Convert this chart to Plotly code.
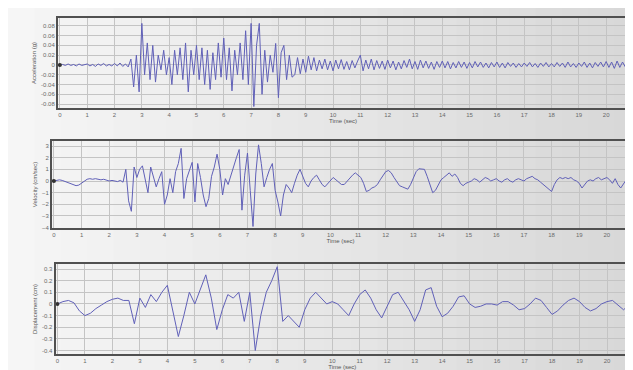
import numpy as np
import plotly.graph_objects as go

# ---------------- data ----------------
dt_acc = 0.1
acceleration_g = [
    0, 0.001, -0.001, 0.002, -0.001, 0.001, -0.002, 0.002, -0.001, 0.001,
    0.002, -0.002, 0.001, -0.003, 0.002, -0.001, 0.003, -0.002, 0.001, -0.002,
    0.003, -0.002, 0.004, -0.003, 0.002, -0.004, 0.012, -0.045, 0.02, -0.055,
    0.085, -0.02, 0.045, -0.03, 0.04, -0.035, 0.02, -0.01, 0.03, -0.02,
    0.015, -0.04, 0.03, -0.02, 0.035, -0.03, 0.045, -0.055, 0.03, -0.02,
    0.04, -0.03, 0.035, -0.04, 0.03, -0.05, 0.025, -0.03, 0.045, -0.025,
    0.055, -0.03, 0.035, -0.053, 0.03, -0.02, 0.045, -0.03, 0.07, -0.04,
    0.085, -0.085, 0.04, 0.085, -0.06, 0.03, -0.035, 0.02, -0.015, 0.044,
    -0.067, 0.025, 0.04, -0.03, 0.02, -0.025, -0.02, 0.015, -0.018, 0.012,
    -0.015, 0.018, -0.01, 0.015, -0.012, 0.01, -0.008, 0.012, -0.01, 0.008,
    -0.012, 0.01, -0.008, 0.011, -0.009, 0.007, -0.01, 0.009, -0.006, 0.008,
    0.02, -0.012, 0.01, -0.008, 0.012, -0.01, 0.009, -0.007, 0.008, -0.009,
    0.01, -0.006, 0.008, -0.01, 0.006, -0.008, 0.009, -0.005, 0.012, -0.008,
    0.007, -0.009, 0.01, -0.006, 0.008, -0.007, 0.006, -0.009, 0.007, -0.005,
    0.008, -0.006, 0.007, -0.008, 0.005, -0.006, 0.007, -0.005, 0.006, -0.007,
    0.005, -0.006, 0.007, -0.004, 0.006, -0.005, 0.004, -0.006, 0.005, -0.004,
    0.006, -0.005, 0.004, -0.006, 0.005, -0.003, 0.004, -0.005, 0.003, -0.004,
    0.004, -0.003, 0.005, -0.004, 0.003, -0.005, 0.004, -0.003, 0.005, -0.004,
    0.003, -0.004, 0.005, -0.003, 0.004, -0.005, 0.006, -0.004, 0.003, -0.005,
    0.004, -0.003, 0.006, -0.005, 0.004, -0.006, 0.005, -0.003, 0.006, -0.004,
    0.007, -0.005, 0.006, -0.007, 0.008, -0.005, 0.006, -0.004, 0.003,
]

dt_vel = 0.1
velocity_cms = [
    0, 0.05, 0.1, 0.05, -0.05, -0.15, -0.25, -0.35, -0.4, -0.35,
    -0.2, 0.0, 0.15, 0.2, 0.15, 0.2, 0.15, 0.1, 0.15, 0.05,
    0.0, 0.05, 0.0, -0.05, 0.05, -0.1, 1.0, -1.7, -2.6, 1.2,
    0.3, 1.0, 1.3, 0.2, -1.0, 1.2, 0.4, -0.5, 0.2, 0.8,
    -2.0, -1.2, 0.2, -1.0, 0.8, 1.5, 2.8, -1.5, 0.2, 1.0,
    1.6, -1.8, 1.5, 0.3, -1.2, -2.2, -1.5, 0.4, 1.2, 2.3,
    1.0, -1.2, 0.2, -0.3, 0.5, 1.4, 2.0, 2.7, -2.5, 0.5,
    2.4, -0.8, -3.9, 0.6, 3.1, 1.5, -0.5, 0.3, 1.0, 1.5,
    -0.8, -1.8, -3.0, -1.2, -0.3, -0.6, -1.0, -0.2, 0.5, 1.0,
    0.4, -0.2, -0.5, 0.0, 0.3, 0.5, 0.1, -0.3, -0.5, -0.2,
    0.1, 0.3, 0.1, -0.1, -0.3, -0.3, 0.0, 0.3, 0.5, 0.7,
    0.5, 0.3, -0.2, -0.9, -0.8, -0.6, -0.5, -0.3, 0.1, 0.5,
    0.8, 0.9, 0.7, 0.3, -0.1, -0.4, -0.5, -0.6, -0.7, -0.3,
    0.3, 0.8, 1.05, 1.05, 1.0, 0.4, -0.3, -1.0, -0.8, -0.3,
    0.1, 0.3, 0.5, 0.7, 0.4, 0.6, 0.3, -0.2, -0.4, -0.2,
    -0.1, 0.0, 0.2, 0.1, -0.1, 0.1, 0.3, 0.2, 0.0, 0.1,
    0.2, 0.0, -0.1, 0.1, 0.2, 0.0, -0.1, 0.1, 0.2, 0.1,
    0.0, 0.2, 0.3, 0.4, 0.2, 0.1, -0.1, -0.3, -0.5, -0.7,
    -0.9, -0.3, 0.1, 0.3, 0.2, 0.3, 0.2, 0.3, 0.1, 0.0,
    -0.2, -0.6, -0.3, 0.0, 0.1, 0.0, 0.2, 0.3, 0.1, 0.2,
    0.3, 0.1, -0.2, 0.2, -0.3, -0.6, -0.2, 0.1, 0.3,
]

dt_disp = 0.2
displacement_cm = [
    0, 0.02, 0.03, 0.01, -0.06, -0.1, -0.08, -0.04, -0.01, 0.02,
    0.04, 0.05, 0.03, 0.03, -0.17, 0.05, -0.03, 0.08, 0.02, 0.1,
    0.16, -0.05, -0.28, -0.1, 0.1, 0.0, 0.12, 0.25, 0.05, -0.22,
    -0.05, 0.08, 0.05, 0.1, -0.15, 0.1, -0.4, -0.1, 0.1, 0.2,
    0.32, -0.15, -0.1, -0.15, -0.2, -0.05, 0.05, 0.1, 0.05, 0.0,
    0.02, 0.0, -0.05, -0.1, 0.0, 0.08, 0.12, 0.05, -0.05, -0.12,
    -0.02, 0.08, 0.1, 0.03, -0.05, -0.15, -0.05, 0.12, 0.14, -0.02,
    -0.11, -0.08, -0.02, 0.06, 0.07, 0.0, -0.03, -0.02, 0.0, 0.0,
    -0.01, 0.02, 0.02, -0.01, -0.05, -0.04, 0.0, 0.05, 0.03, -0.03,
    -0.09, -0.06, -0.01, 0.03, 0.05, 0.02, -0.03, -0.06, -0.04, 0.0,
    0.02, 0.03, -0.01, -0.05, -0.01,
]

x_ticks = list(range(0, 21))
acc_ticks = [-0.08, -0.06, -0.04, -0.02, 0, 0.02, 0.04, 0.06, 0.08]
acc_tick_text = ["-0.08", "-0.06", "-0.04", "-0.02", "0", "0.02", "0.04", "0.06", "0.08"]
vel_ticks = [-4, -3, -2, -1, 0, 1, 2, 3]
disp_ticks = [-0.4, -0.3, -0.2, -0.1, 0, 0.1, 0.2, 0.3]
disp_tick_text = ["-0.4", "-0.3", "-0.2", "-0.1", "0", "0.1", "0.2", "0.3"]

t_acc = np.arange(len(acceleration_g)) * dt_acc
t_vel = np.arange(len(velocity_cms)) * dt_vel
t_disp = np.arange(len(displacement_cm)) * dt_disp

# ---------------- figure ----------------
W, H = 633, 370
line_col = "#6060b8"
fig = go.Figure()

series = [
    (t_acc, acceleration_g, "x", "y", 1.0),
    (t_vel, velocity_cms, "x2", "y2", 1.0),
    (t_disp, displacement_cm, "x3", "y3", 1.0),
]
for t, v, xa, ya, w in series:
    fig.add_trace(go.Scatter(x=t, y=v, mode="lines", xaxis=xa, yaxis=ya,
                             line=dict(color=line_col, width=w), showlegend=False,
                             hoverinfo="skip"))
    fig.add_trace(go.Scatter(x=[t[0]], y=[v[0]], mode="markers", xaxis=xa, yaxis=ya,
                             marker=dict(color="#333333", size=4), showlegend=False,
                             hoverinfo="skip"))

def px_dom_x(l, r):
    return [l / W, r / W]

def px_dom_y(top, bottom):
    return [1 - bottom / H, 1 - top / H]

tickfont = dict(family="Liberation Sans, Arial, sans-serif", size=6, color="#6a6a6a")
titlefont = dict(family="Liberation Sans, Arial, sans-serif", size=6, color="#555555")
grid_col = "#c4c4c4"

common_x = dict(range=[-0.07, 20.8], tickmode="array", tickvals=x_ticks,
                showgrid=True, gridcolor=grid_col, gridwidth=1,
                showline=True, mirror=True, linecolor="#505050", linewidth=2,
                ticks="", tickfont=tickfont, zeroline=False, automargin=False,
                title=dict(text="Time (sec)", font=titlefont, standoff=2))
common_y = dict(showgrid=True, gridcolor=grid_col, gridwidth=1,
                showline=True, mirror=True, linecolor="#505050", linewidth=2,
                ticks="", tickfont=tickfont, zeroline=False, automargin=False)

fig.update_layout(
    width=W, height=H,
    margin=dict(l=0, r=0, t=0, b=0),
    paper_bgcolor="#e6e6e6",
    plot_bgcolor="rgba(248,248,248,0.75)",
    xaxis=dict(common_x, domain=px_dom_x(50, 620), anchor="y"),
    yaxis=dict(common_y, domain=px_dom_y(10, 100), anchor="x",
               range=[-0.088, 0.096], tickvals=acc_ticks, ticktext=acc_tick_text,
               title=dict(text="Acceleration (g)", font=titlefont, standoff=4)),
    xaxis2=dict(common_x, domain=px_dom_x(44, 621), anchor="y2"),
    yaxis2=dict(common_y, domain=px_dom_y(133, 220), anchor="x2",
                range=[-4.03, 3.43], tickvals=vel_ticks,
                title=dict(text="Velocity (cm/sec)", font=titlefont, standoff=4)),
    xaxis3=dict(common_x, domain=px_dom_x(47.5, 621), anchor="y3"),
    yaxis3=dict(common_y, domain=px_dom_y(256, 346), anchor="x3",
                range=[-0.43, 0.343], tickvals=disp_ticks, ticktext=disp_tick_text,
                title=dict(text="Displacement (cm)", font=titlefont, standoff=4)),
)

# soft background gradient (light at left, darker at right)
n_strips = 24
shapes = []
for i in range(n_strips):
    g = int(246 - (246 - 216) * i / (n_strips - 1))
    shapes.append(dict(type="rect", xref="paper", yref="paper",
                       x0=i / n_strips, x1=(i + 1) / n_strips + 0.002, y0=0, y1=1,
                       fillcolor=f"rgb({g},{g},{g})", line=dict(width=0), layer="below"))
fig.update_layout(shapes=shapes)

fig.write_html("out.html")
